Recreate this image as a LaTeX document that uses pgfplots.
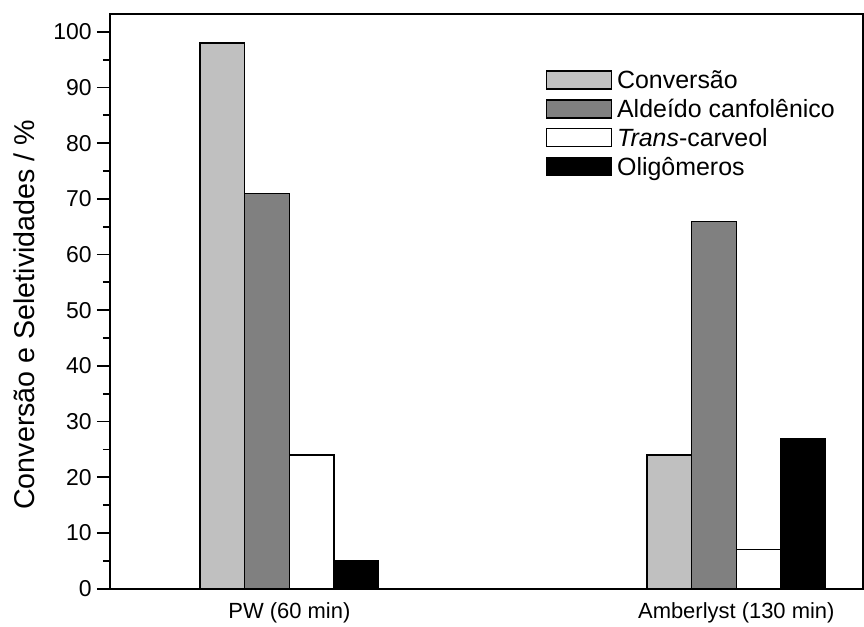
\documentclass[border=0pt]{standalone}
\usepackage{pgfplots}
\pgfplotsset{compat=1.18}
\usepackage{fontspec}
\setmainfont{Liberation Sans}
\definecolor{lgray}{RGB}{192,192,192}
\definecolor{dgray}{RGB}{128,128,128}
\begin{document}
\begin{tikzpicture}
\begin{axis}[
  scale only axis, width=755pt, height=576pt,
  xmin=0.598, xmax=2.2835, ymin=0, ymax=103.2,
  ybar=0pt, bar width=0.1,
  xtick={1,2}, xticklabels={PW (60 min), Amberlyst (130 min)},
  xtick style={draw=none},
  ytick={0,10,...,100}, minor ytick={5,15,...,95},
  ytick pos=left, tick align=outside,
  major tick length=13pt, minor tick length=7pt,
  ytick style={line width=1.8pt, black},
  minor tick style={line width=1.8pt, black},
  axis line style={line width=2pt},
  /pgf/number format/assume math mode=true,
  yticklabel style={font=\fontsize{23}{27}\selectfont, inner xsep=5pt},
  xticklabel style={font=\fontsize{22}{26}\selectfont, yshift=2.5pt},
  ylabel={Conversão e Seletividades / \%},
  ylabel style={font=\fontsize{28.7}{34}\selectfont, at={(axis description cs:-0.0993,0.4766)}, anchor=south, inner ysep=0pt},
  legend image code/.code={\draw[#1] (0pt,-6.5pt) rectangle (65pt,11.5pt);},
  legend cell align=left,
  legend style={draw=none, fill=none, at={(0.579,0.9028)}, anchor=north west,
    font=\fontsize{25}{29}\selectfont, inner sep=0pt, row sep=4pt, column sep=0pt,
    nodes={inner xsep=5pt, inner ysep=0pt, text height=19pt, text depth=6pt}},
]
\addplot[fill=lgray, draw=black, line width=1.2pt] coordinates {(1,98) (2,24)};
\addlegendentry{Conversão}
\addplot[fill=dgray, draw=black, line width=1.2pt] coordinates {(1,71) (2,66)};
\addlegendentry{Aldeído canfolênico}
\addplot[fill=white, draw=black, line width=1.2pt] coordinates {(1,24) (2,7)};
\addlegendentry{\textit{Trans}-carveol}
\addplot[fill=black, draw=black, line width=1.2pt] coordinates {(1,5) (2,27)};
\addlegendentry{Oligômeros}
\end{axis}
\path[use as bounding box] ([xshift=-110pt,yshift=-35pt]current axis.south west) rectangle ([xshift=-1pt,yshift=14pt]current axis.north east);
\end{tikzpicture}
\end{document}
